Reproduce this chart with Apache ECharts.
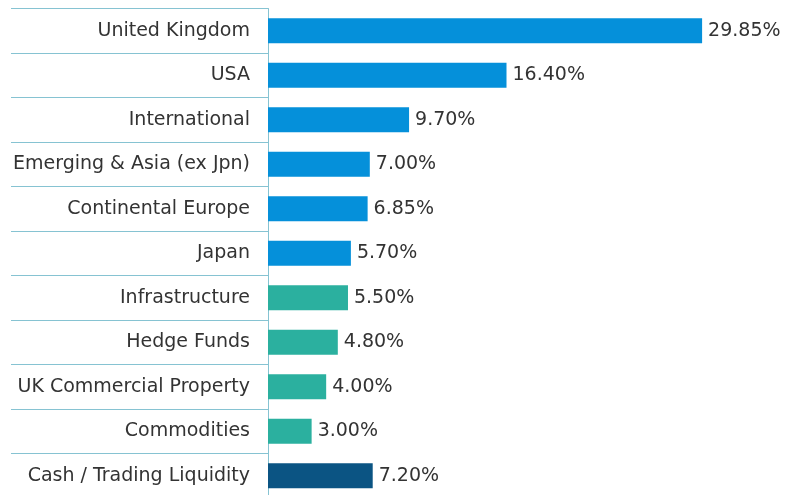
<!DOCTYPE html>
<html><head><meta charset="utf-8">
<script src="https://cdn.jsdelivr.net/npm/echarts@6/dist/echarts.min.js"></script>
<style>html,body{margin:0;padding:0;background:#fff;overflow:hidden}#c{width:786px;height:500px}</style>
</head><body><div id="c"></div>
<script>
const categories = ["United Kingdom","USA","International","Emerging & Asia (ex Jpn)","Continental Europe","Japan","Infrastructure","Hedge Funds","UK Commercial Property","Commodities","Cash / Trading Liquidity"];
const values = [29.85,16.40,9.70,7.00,6.85,5.70,5.50,4.80,4.00,3.00,7.20];
const groups = ["equity","equity","equity","equity","equity","equity","alt","alt","alt","alt","cash"];
const groupColors = {equity:"#0590da", alt:"#2bb09f", cash:"#0b5483"};

const chart = echarts.init(document.getElementById('c'));
chart.setOption({
  animation:false,
  grid:{left:268, right:9, top:8.5, height:489.5, containLabel:false},
  xAxis:{type:'value', min:0, max:35, show:false},
  yAxis:{type:'category', data:categories, inverse:true,
    axisLine:{show:true, lineStyle:{color:'#86c3d2', width:1}},
    axisTick:{show:true, length:257, interval:0, lineStyle:{color:'#86c3d2', width:1}},
    axisLabel:{margin:18, fontFamily:'DejaVu Sans', fontSize:19, color:'#333'}
  },
  series:[{type:'bar', barWidth:25,
    data: values.map((v,i)=>({value:v, itemStyle:{color:groupColors[groups[i]]}})),
    label:{show:true, position:'right', distance:6, fontFamily:'DejaVu Sans', fontSize:19, color:'#333',
      formatter:p=>p.value.toFixed(2)+'%'}
  }]
});
</script></body></html>
